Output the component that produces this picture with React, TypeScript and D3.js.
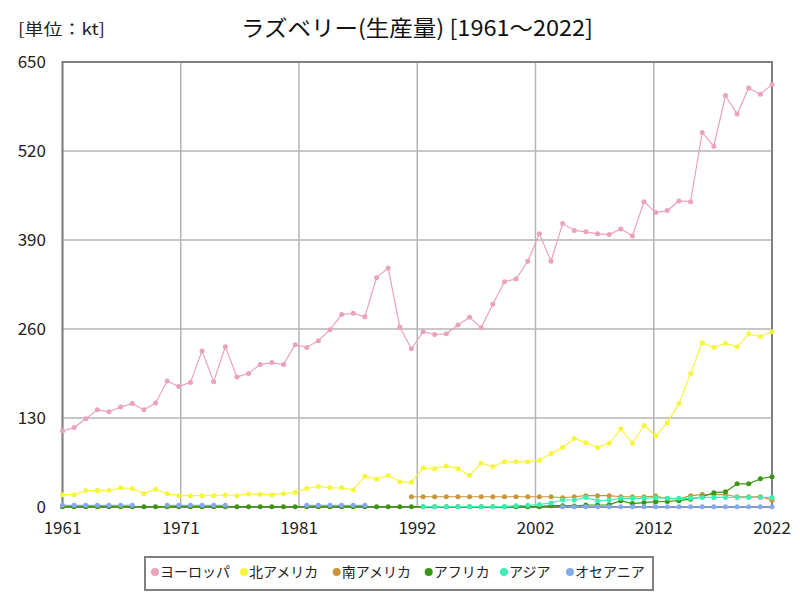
import React from "react";
import * as d3 from "d3";

const years: number[] = d3.range(1961, 2023);

const europe: (number | null)[] = [
  111, 116, 129, 142, 139, 146, 151, 142, 152, 184,
  176, 182, 228, 183, 234, 190, 195, 208, 211, 208,
  237, 233, 243, 259, 281, 283, 278, 335, 349, 263,
  231, 256, 252, 253, 266, 277, 262, 296, 329, 333,
  359, 399, 359, 414, 404, 402, 399, 398, 406, 396,
  446, 430, 433, 447, 446, 547, 527, 601, 574, 612,
  603, 617,
];

const northAmerica: (number | null)[] = [
  18, 18, 24, 24, 24, 28, 27, 19.5, 26, 19.5,
  16.6, 16.6, 16.6, 16.6, 17.5, 16.6, 19, 18.5, 18, 19.5,
  21, 27, 30, 28, 28, 25, 45, 41, 46, 37,
  36, 57, 56, 60, 56, 46, 64, 59, 66, 66,
  66, 68, 78, 87, 100, 94, 87, 93, 114, 93,
  119, 104, 123, 151, 195, 240, 233, 239, 234, 253,
  249, 256,
];

const southAmerica: (number | null)[] = [
  null, null, null, null, null, null, null, null, null, null,
  null, null, null, null, null, null, null, null, null, null,
  null, null, null, null, null, null, null, null, null, null,
  15, 15, 15, 15, 15, 15, 15, 15, 15, 15,
  15, 15, 15, 13.5, 15, 16.6, 16.6, 16.6, 15, 15,
  15, 16, 12.4, 12, 16.6, 18.2, 18.2, 18.2, 15, 15,
  15, 10,
];

const africa: (number | null)[] = [
  0.5, 0.5, 0.5, 0.5, 0.5, 0.5, 0.5, 0.5, 0.5, 0.5,
  0.5, 0.5, 0.5, 0.5, 0.5, 0.5, 0.5, 0.5, 0.5, 0.5,
  0.5, 0.5, 0.5, 0.5, 0.5, 0.5, 0.5, 0.5, 0.5, 0.5,
  0.5, 0.5, 0.5, 0.5, 0.5, 0.5, 0.5, 0.5, 0.5, 0.5,
  0.5, 0.5, 1.9, 1.9, 1.5, 2.9, 2.9, 3.2, 9.2, 5,
  6.5, 7.8, 8, 9.2, 11.5, 15, 20.9, 22.2, 33.8, 33.8,
  41.2, 44.3,
];

const asia: (number | null)[] = [
  null, null, null, null, null, null, null, null, null, null,
  null, null, null, null, null, null, null, null, null, null,
  null, null, null, null, null, null, null, null, null, null,
  null, 0.5, 0.5, 0.5, 0.5, 0.5, 0.5, 0.5, 0.5, 1.9,
  2.4, 3.6, 6, 10.2, 10.2, 13.9, 9, 10.2, 12.6, 12.6,
  12.6, 13.6, 12.6, 12.6, 12.6, 14, 14, 14, 14, 14,
  14, 14,
];

const oceania: (number | null)[] = [
  2.5, 2.5, 2.5, 2.5, 2.5, 2.5, 2.5, null, null, 2.5,
  2.5, 2.5, 2.5, 2.5, 2.5, null, null, null, null, null,
  null, 2.5, 2.5, 2.5, 2.5, 2.5, 2.5, null, null, null,
  null, null, null, null, null, null, null, null, null, null,
  null, null, null, 0.3, 0.3, 0.3, 0.3, 0.3, 0.3, 0.3,
  0.3, 0.3, 0.3, 0.3, 0.3, 0.3, 0.3, 0.3, 0.3, 0.3,
  0.3, 0.3,
];

const seriesNames: string[] = ["ヨーロッパ", "北アメリカ", "南アメリカ", "アフリカ", "アジア", "オセアニア"];
const seriesColors: string[] = ["#eba2bc", "#f6f63c", "#c8963c", "#3c9614", "#3cf0b0", "#84aaee"];
const seriesData = [europe, northAmerica, southAmerica, africa, asia, oceania];

const yTicks: number[] = [0, 130, 260, 390, 520, 650];
const xTickLabels: string[] = ["1961", "1971", "1981", "1992", "2002", "2012", "2022"];

const W = 800;
const H = 600;
const L = 62.5;
const R = 772;
const T = 62;
const B = 507;

export default function App() {
  const x = d3.scaleLinear().domain([1961, 2022]).range([L, R]);
  const y = d3.scaleLinear().domain([0, 650]).range([B, T]);
  const xGrid = d3.range(0, 7).map((i) => 1961 + (61 * i) / 6);
  const font = "'Noto Sans CJK JP', 'Noto Sans', sans-serif";

  const line = d3
    .line<[number, number | null]>()
    .defined((d) => d[1] !== null)
    .x((d) => x(d[0]))
    .y((d) => y(d[1] as number));

  const legendDotX = [155, 244, 336.7, 428.7, 504, 570];

  return (
    <svg
      width={W}
      height={H}
      style={{ position: "absolute", left: 0, top: 0, background: "#fff" }}
      fontFamily={font}
    >
      <rect x={0} y={0} width={W} height={H} fill="#fff" />
      <text x={18} y={35} fontSize={16} fill="#222" textLength={87} lengthAdjust="spacingAndGlyphs">[単位：kt]</text>
      <text
        x={417}
        y={36}
        fontSize={22}
        textAnchor="middle"
        fill="#111"
        textLength={352}
        lengthAdjust="spacingAndGlyphs"
      >
        ラズベリー(生産量) [1961～2022]
      </text>

      {yTicks.map((t) => (
        <g key={"y" + t}>
          <line x1={L} x2={R} y1={y(t)} y2={y(t)} stroke="#b4b4b4" strokeWidth={1.5} />
          <text x={46} y={y(t) + 6} fontSize={17} textAnchor="end" fill="#222">
            {t}
          </text>
        </g>
      ))}
      {xGrid.map((g, i) => (
        <g key={"x" + i}>
          <line x1={x(g)} x2={x(g)} y1={T} y2={B} stroke="#b4b4b4" strokeWidth={1.5} />
          <text x={x(g)} y={534} fontSize={17} textAnchor="middle" fill="#222">
            {xTickLabels[i]}
          </text>
        </g>
      ))}
      <rect x={L} y={T} width={R - L} height={B - T} fill="none" stroke="#808080" strokeWidth={2} />

      {seriesData.map((data, si) => {
        const pts: [number, number | null][] = years.map((yr, i) => [yr, data[i]]);
        return (
          <g key={"s" + si}>
            <path d={line(pts) || ""} fill="none" stroke={seriesColors[si]} strokeWidth={1.2} />
            {pts
              .filter((p) => p[1] !== null)
              .map((p, i) => (
                <circle key={i} cx={x(p[0])} cy={y(p[1] as number)} r={2.5} fill={seriesColors[si]} />
              ))}
          </g>
        );
      })}

      <rect x={145} y={557} width={508} height={33} fill="#fff" stroke="#808080" strokeWidth={2} />
      {seriesNames.map((n, i) => (
        <g key={"l" + i}>
          <circle cx={legendDotX[i]} cy={572} r={4} fill={seriesColors[i]} />
          <text x={legendDotX[i] + 5} y={577} fontSize={14} fill="#222">
            {n}
          </text>
        </g>
      ))}
    </svg>
  );
}
